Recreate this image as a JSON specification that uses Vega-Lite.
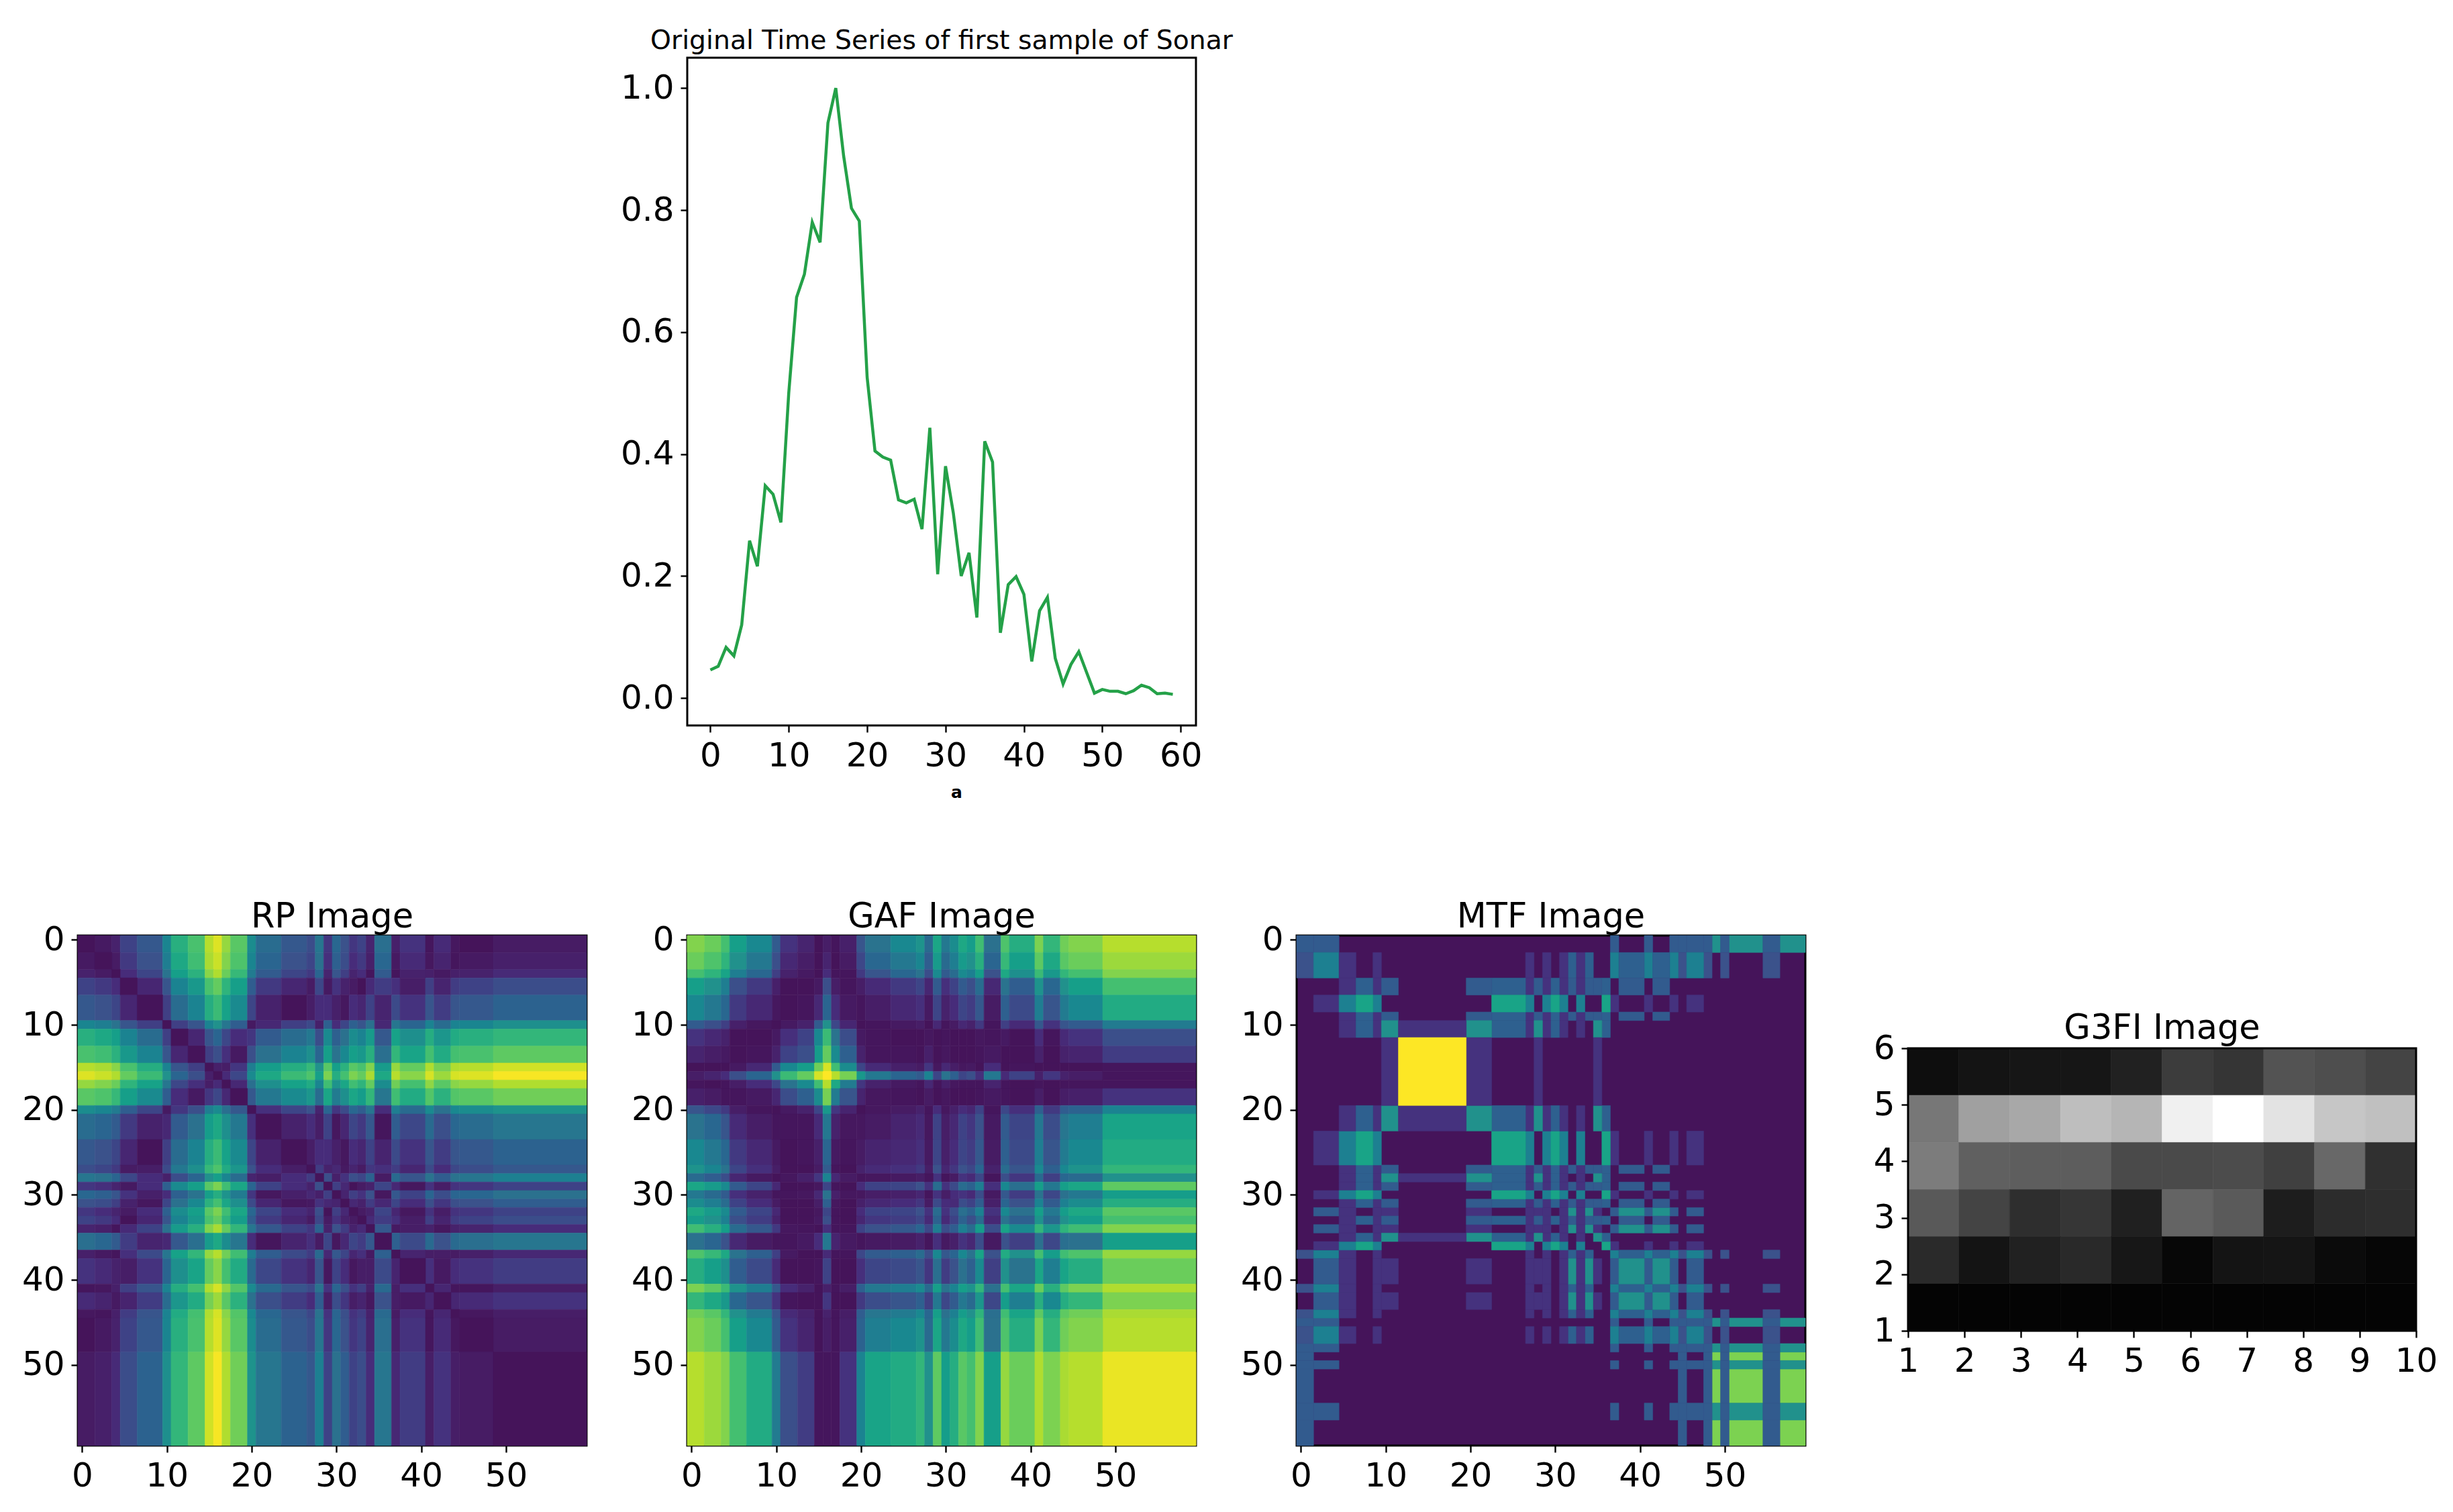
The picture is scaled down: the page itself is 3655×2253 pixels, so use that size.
{
"$schema":"https://vega.github.io/schema/vega-lite/v6.json",
"background":"white",
"padding":{"left":30,"top":40,"right":5,"bottom":5},
"config":{"font":"DejaVu Sans","view":{"stroke":"black","strokeWidth":3},"range":{"heatmap":["#45145a","#472d7b","#3b528b","#2c728e","#21918c","#28ae80","#5ec962","#addc30","#fde725"]},"axis":{"labelFont":"DejaVu Sans","labelFontSize":50,"labelColor":"black","labelFlush":false,"tickColor":"black","tickSize":10,"tickWidth":2.4,"labelPadding":10,"domain":false,"grid":false,"labelAngle":0,"labelOverlap":false},"title":{"font":"DejaVu Sans","fontWeight":"normal","fontSize":51,"color":"black","offset":-18,"anchor":"middle"}},
"datasets":{
"series":[{"t":0,"v":0.046},{"t":1,"v":0.052},{"t":2,"v":0.083},{"t":3,"v":0.069},{"t":4,"v":0.12},{"t":5,"v":0.258},{"t":6,"v":0.216},{"t":7,"v":0.348},{"t":8,"v":0.334},{"t":9,"v":0.288},{"t":10,"v":0.5},{"t":11,"v":0.657},{"t":12,"v":0.695},{"t":13,"v":0.78},{"t":14,"v":0.747},{"t":15,"v":0.943},{"t":16,"v":1},{"t":17,"v":0.889},{"t":18,"v":0.803},{"t":19,"v":0.782},{"t":20,"v":0.526},{"t":21,"v":0.405},{"t":22,"v":0.395},{"t":23,"v":0.39},{"t":24,"v":0.325},{"t":25,"v":0.32},{"t":26,"v":0.326},{"t":27,"v":0.277},{"t":28,"v":0.443},{"t":29,"v":0.203},{"t":30,"v":0.38},{"t":31,"v":0.303},{"t":32,"v":0.2},{"t":33,"v":0.238},{"t":34,"v":0.132},{"t":35,"v":0.421},{"t":36,"v":0.387},{"t":37,"v":0.107},{"t":38,"v":0.186},{"t":39,"v":0.199},{"t":40,"v":0.17},{"t":41,"v":0.06},{"t":42,"v":0.143},{"t":43,"v":0.165},{"t":44,"v":0.065},{"t":45,"v":0.023},{"t":46,"v":0.055},{"t":47,"v":0.076},{"t":48,"v":0.042},{"t":49,"v":0.008},{"t":50,"v":0.014},{"t":51,"v":0.011},{"t":52,"v":0.011},{"t":53,"v":0.007},{"t":54,"v":0.012},{"t":55,"v":0.021},{"t":56,"v":0.017},{"t":57,"v":0.007},{"t":58,"v":0.008},{"t":59,"v":0.006}],
"blocks":[{"k":0,"a":-0.5,"b":1.5},{"k":1,"a":1.5,"b":3.5},{"k":2,"a":3.5,"b":4.5},{"k":3,"a":4.5,"b":6.5},{"k":4,"a":6.5,"b":9.5},{"k":5,"a":9.5,"b":10.5},{"k":6,"a":10.5,"b":12.5},{"k":7,"a":12.5,"b":14.5},{"k":8,"a":14.5,"b":15.5},{"k":9,"a":15.5,"b":16.5},{"k":10,"a":16.5,"b":17.5},{"k":11,"a":17.5,"b":19.5},{"k":12,"a":19.5,"b":20.5},{"k":13,"a":20.5,"b":23.5},{"k":14,"a":23.5,"b":26.5},{"k":15,"a":26.5,"b":27.5},{"k":16,"a":27.5,"b":28.5},{"k":17,"a":28.5,"b":29.5},{"k":18,"a":29.5,"b":30.5},{"k":19,"a":30.5,"b":31.5},{"k":20,"a":31.5,"b":32.5},{"k":21,"a":32.5,"b":33.5},{"k":22,"a":33.5,"b":34.5},{"k":23,"a":34.5,"b":36.5},{"k":24,"a":36.5,"b":37.5},{"k":25,"a":37.5,"b":40.5},{"k":26,"a":40.5,"b":41.5},{"k":27,"a":41.5,"b":43.5},{"k":28,"a":43.5,"b":44.5},{"k":29,"a":44.5,"b":48.5},{"k":30,"a":48.5,"b":59.5}],
"runs":[{"k":0,"a":-0.5,"b":1.5},{"k":1,"a":1.5,"b":4.5},{"k":2,"a":4.5,"b":6.5},{"k":3,"a":6.5,"b":8.5},{"k":4,"a":8.5,"b":9.5},{"k":5,"a":9.5,"b":11.5},{"k":6,"a":11.5,"b":19.5},{"k":7,"a":19.5,"b":22.5},{"k":8,"a":22.5,"b":26.5},{"k":9,"a":26.5,"b":27.5},{"k":10,"a":27.5,"b":28.5},{"k":11,"a":28.5,"b":29.5},{"k":12,"a":29.5,"b":30.5},{"k":13,"a":30.5,"b":31.5},{"k":14,"a":31.5,"b":32.5},{"k":15,"a":32.5,"b":33.5},{"k":16,"a":33.5,"b":34.5},{"k":17,"a":34.5,"b":35.5},{"k":18,"a":35.5,"b":36.5},{"k":19,"a":36.5,"b":37.5},{"k":20,"a":37.5,"b":40.5},{"k":21,"a":40.5,"b":41.5},{"k":22,"a":41.5,"b":43.5},{"k":23,"a":43.5,"b":44.5},{"k":24,"a":44.5,"b":45.5},{"k":25,"a":45.5,"b":47.5},{"k":26,"a":47.5,"b":48.5},{"k":27,"a":48.5,"b":49.5},{"k":28,"a":49.5,"b":50.5},{"k":29,"a":50.5,"b":54.5},{"k":30,"a":54.5,"b":56.5},{"k":31,"a":56.5,"b":59.5}],
"grid":[
{"i":0,"j":0,"r":0,"g":81},{"i":0,"j":1,"r":3,"g":77},{"i":0,"j":2,"r":7,"g":70},{"i":0,"j":3,"r":19,"g":56},{"i":0,"j":4,"r":27,"g":46},{"i":0,"j":5,"r":45,"g":28},{"i":0,"j":6,"r":63,"g":14},{"i":0,"j":7,"r":71,"g":8},{"i":0,"j":8,"r":89,"g":0},{"i":0,"j":9,"r":95,"g":5},{"i":0,"j":10,"r":84,"g":1},{"i":0,"j":11,"r":74,"g":6},{"i":0,"j":12,"r":48,"g":26},{"i":0,"j":13,"r":35,"g":38},{"i":0,"j":14,"r":27,"g":46},{"i":0,"j":15,"r":23,"g":51},{"i":0,"j":16,"r":39,"g":34},{"i":0,"j":17,"r":15,"g":59},{"i":0,"j":18,"r":33,"g":40},{"i":0,"j":19,"r":25,"g":48},{"i":0,"j":20,"r":15,"g":60},{"i":0,"j":21,"r":19,"g":55},{"i":0,"j":22,"r":8,"g":69},{"i":0,"j":23,"r":36,"g":37},{"i":0,"j":24,"r":6,"g":72},{"i":0,"j":25,"r":14,"g":62},{"i":0,"j":26,"r":1,"g":80},{"i":0,"j":27,"r":11,"g":66},{"i":0,"j":28,"r":2,"g":78},{"i":0,"j":29,"r":0,"g":81},{"i":0,"j":30,"r":4,"g":89},
{"i":1,"j":1,"r":0,"g":72},{"i":1,"j":2,"r":4,"g":65},{"i":1,"j":3,"r":16,"g":50},{"i":1,"j":4,"r":25,"g":40},{"i":1,"j":5,"r":42,"g":24},{"i":1,"j":6,"r":60,"g":10},{"i":1,"j":7,"r":69,"g":5},{"i":1,"j":8,"r":87,"g":0},{"i":1,"j":9,"r":92,"g":8},{"i":1,"j":10,"r":81,"g":0},{"i":1,"j":11,"r":72,"g":4},{"i":1,"j":12,"r":45,"g":21},{"i":1,"j":13,"r":32,"g":33},{"i":1,"j":14,"r":25,"g":40},{"i":1,"j":15,"r":20,"g":45},{"i":1,"j":16,"r":37,"g":29},{"i":1,"j":17,"r":13,"g":54},{"i":1,"j":18,"r":30,"g":34},{"i":1,"j":19,"r":23,"g":42},{"i":1,"j":20,"r":12,"g":54},{"i":1,"j":21,"r":16,"g":50},{"i":1,"j":22,"r":6,"g":63},{"i":1,"j":23,"r":33,"g":32},{"i":1,"j":24,"r":3,"g":67},{"i":1,"j":25,"r":11,"g":56},{"i":1,"j":26,"r":2,"g":75},{"i":1,"j":27,"r":8,"g":60},{"i":1,"j":28,"r":1,"g":74},{"i":1,"j":29,"r":3,"g":77},{"i":1,"j":30,"r":6,"g":85},
{"i":2,"j":2,"r":0,"g":58},{"i":2,"j":3,"r":12,"g":42},{"i":2,"j":4,"r":20,"g":33},{"i":2,"j":5,"r":38,"g":18},{"i":2,"j":6,"r":56,"g":7},{"i":2,"j":7,"r":64,"g":3},{"i":2,"j":8,"r":82,"g":0},{"i":2,"j":9,"r":88,"g":12},{"i":2,"j":10,"r":77,"g":1},{"i":2,"j":11,"r":67,"g":1},{"i":2,"j":12,"r":41,"g":16},{"i":2,"j":13,"r":28,"g":26},{"i":2,"j":14,"r":20,"g":33},{"i":2,"j":15,"r":16,"g":38},{"i":2,"j":16,"r":32,"g":23},{"i":2,"j":17,"r":8,"g":47},{"i":2,"j":18,"r":26,"g":28},{"i":2,"j":19,"r":18,"g":35},{"i":2,"j":20,"r":8,"g":47},{"i":2,"j":21,"r":12,"g":43},{"i":2,"j":22,"r":1,"g":56},{"i":2,"j":23,"r":28,"g":25},{"i":2,"j":24,"r":1,"g":60},{"i":2,"j":25,"r":7,"g":49},{"i":2,"j":26,"r":6,"g":68},{"i":2,"j":27,"r":3,"g":53},{"i":2,"j":28,"r":6,"g":66},{"i":2,"j":29,"r":7,"g":70},{"i":2,"j":30,"r":11,"g":81},
{"i":3,"j":3,"r":0,"g":24},{"i":3,"j":4,"r":9,"g":16},{"i":3,"j":5,"r":26,"g":6},{"i":3,"j":6,"r":44,"g":0},{"i":3,"j":7,"r":53,"g":0},{"i":3,"j":8,"r":71,"g":3},{"i":3,"j":9,"r":76,"g":24},{"i":3,"j":10,"r":65,"g":5},{"i":3,"j":11,"r":56,"g":1},{"i":3,"j":12,"r":29,"g":5},{"i":3,"j":13,"r":16,"g":11},{"i":3,"j":14,"r":9,"g":16},{"i":3,"j":15,"r":4,"g":20},{"i":3,"j":16,"r":21,"g":9},{"i":3,"j":17,"r":3,"g":28},{"i":3,"j":18,"r":14,"g":13},{"i":3,"j":19,"r":7,"g":19},{"i":3,"j":20,"r":4,"g":28},{"i":3,"j":21,"r":0,"g":24},{"i":3,"j":22,"r":11,"g":35},{"i":3,"j":23,"r":17,"g":10},{"i":3,"j":24,"r":13,"g":38},{"i":3,"j":25,"r":5,"g":29},{"i":3,"j":26,"r":18,"g":51},{"i":3,"j":27,"r":8,"g":33},{"i":3,"j":28,"r":17,"g":50},{"i":3,"j":29,"r":19,"g":56},{"i":3,"j":30,"r":23,"g":70},
{"i":4,"j":4,"r":0,"g":10},{"i":4,"j":5,"r":18,"g":2},{"i":4,"j":6,"r":35,"g":0},{"i":4,"j":7,"r":44,"g":1},{"i":4,"j":8,"r":62,"g":10},{"i":4,"j":9,"r":68,"g":32},{"i":4,"j":10,"r":57,"g":12},{"i":4,"j":11,"r":47,"g":3},{"i":4,"j":12,"r":20,"g":1},{"i":4,"j":13,"r":7,"g":5},{"i":4,"j":14,"r":0,"g":10},{"i":4,"j":15,"r":5,"g":13},{"i":4,"j":16,"r":12,"g":3},{"i":4,"j":17,"r":12,"g":20},{"i":4,"j":18,"r":6,"g":7},{"i":4,"j":19,"r":2,"g":12},{"i":4,"j":20,"r":12,"g":20},{"i":4,"j":21,"r":9,"g":17},{"i":4,"j":22,"r":19,"g":27},{"i":4,"j":23,"r":8,"g":4},{"i":4,"j":24,"r":22,"g":30},{"i":4,"j":25,"r":14,"g":22},{"i":4,"j":26,"r":26,"g":42},{"i":4,"j":27,"r":17,"g":26},{"i":4,"j":28,"r":26,"g":41},{"i":4,"j":29,"r":27,"g":46},{"i":4,"j":30,"r":31,"g":61},
{"i":5,"j":5,"r":0,"g":0},{"i":5,"j":6,"r":18,"g":3},{"i":5,"j":7,"r":26,"g":7},{"i":5,"j":8,"r":44,"g":28},{"i":5,"j":9,"r":50,"g":50},{"i":5,"j":10,"r":39,"g":21},{"i":5,"j":11,"r":29,"g":9},{"i":5,"j":12,"r":3,"g":0},{"i":5,"j":13,"r":10,"g":1},{"i":5,"j":14,"r":18,"g":3},{"i":5,"j":15,"r":22,"g":5},{"i":5,"j":16,"r":6,"g":0},{"i":5,"j":17,"r":30,"g":10},{"i":5,"j":18,"r":12,"g":1},{"i":5,"j":19,"r":20,"g":4},{"i":5,"j":20,"r":30,"g":10},{"i":5,"j":21,"r":26,"g":7},{"i":5,"j":22,"r":37,"g":16},{"i":5,"j":23,"r":10,"g":1},{"i":5,"j":24,"r":39,"g":18},{"i":5,"j":25,"r":32,"g":11},{"i":5,"j":26,"r":44,"g":27},{"i":5,"j":27,"r":35,"g":14},{"i":5,"j":28,"r":44,"g":26},{"i":5,"j":29,"r":45,"g":28},{"i":5,"j":30,"r":49,"g":41},
{"i":6,"j":6,"r":0,"g":13},{"i":6,"j":7,"r":9,"g":19},{"i":6,"j":8,"r":26,"g":46},{"i":6,"j":9,"r":32,"g":68},{"i":6,"j":10,"r":21,"g":38},{"i":6,"j":11,"r":12,"g":23},{"i":6,"j":12,"r":15,"g":3},{"i":6,"j":13,"r":28,"g":1},{"i":6,"j":14,"r":35,"g":0},{"i":6,"j":15,"r":40,"g":0},{"i":6,"j":16,"r":23,"g":2},{"i":6,"j":17,"r":47,"g":0},{"i":6,"j":18,"r":30,"g":1},{"i":6,"j":19,"r":37,"g":0},{"i":6,"j":20,"r":48,"g":0},{"i":6,"j":21,"r":44,"g":0},{"i":6,"j":22,"r":54,"g":2},{"i":6,"j":23,"r":27,"g":1},{"i":6,"j":24,"r":57,"g":3},{"i":6,"j":25,"r":49,"g":0},{"i":6,"j":26,"r":62,"g":12},{"i":6,"j":27,"r":52,"g":1},{"i":6,"j":28,"r":61,"g":11},{"i":6,"j":29,"r":63,"g":14},{"i":6,"j":30,"r":66,"g":24},
{"i":7,"j":7,"r":0,"g":24},{"i":7,"j":8,"r":18,"g":55},{"i":7,"j":9,"r":24,"g":76},{"i":7,"j":10,"r":13,"g":47},{"i":7,"j":11,"r":3,"g":30},{"i":7,"j":12,"r":24,"g":7},{"i":7,"j":13,"r":37,"g":1},{"i":7,"j":14,"r":44,"g":1},{"i":7,"j":15,"r":49,"g":0},{"i":7,"j":16,"r":32,"g":6},{"i":7,"j":17,"r":56,"g":0},{"i":7,"j":18,"r":38,"g":2},{"i":7,"j":19,"r":46,"g":0},{"i":7,"j":20,"r":56,"g":0},{"i":7,"j":21,"r":53,"g":0},{"i":7,"j":22,"r":63,"g":1},{"i":7,"j":23,"r":36,"g":3},{"i":7,"j":24,"r":66,"g":0},{"i":7,"j":25,"r":58,"g":0},{"i":7,"j":26,"r":70,"g":7},{"i":7,"j":27,"r":61,"g":0},{"i":7,"j":28,"r":70,"g":7},{"i":7,"j":29,"r":71,"g":8},{"i":7,"j":30,"r":75,"g":17},
{"i":8,"j":8,"r":0,"g":78},{"i":8,"j":9,"r":6,"g":94},{"i":8,"j":10,"r":5,"g":69},{"i":8,"j":11,"r":15,"g":48},{"i":8,"j":12,"r":42,"g":20},{"i":8,"j":13,"r":55,"g":11},{"i":8,"j":14,"r":62,"g":6},{"i":8,"j":15,"r":67,"g":4},{"i":8,"j":16,"r":50,"g":15},{"i":8,"j":17,"r":74,"g":2},{"i":8,"j":18,"r":56,"g":10},{"i":8,"j":19,"r":64,"g":5},{"i":8,"j":20,"r":74,"g":2},{"i":8,"j":21,"r":71,"g":3},{"i":8,"j":22,"r":81,"g":0},{"i":8,"j":23,"r":54,"g":12},{"i":8,"j":24,"r":84,"g":0},{"i":8,"j":25,"r":76,"g":1},{"i":8,"j":26,"r":88,"g":0},{"i":8,"j":27,"r":79,"g":0},{"i":8,"j":28,"r":88,"g":0},{"i":8,"j":29,"r":89,"g":0},{"i":8,"j":30,"r":93,"g":1},
{"i":9,"j":9,"r":0,"g":100},{"i":9,"j":10,"r":11,"g":89},{"i":9,"j":11,"r":21,"g":79},{"i":9,"j":12,"r":47,"g":53},{"i":9,"j":13,"r":60,"g":40},{"i":9,"j":14,"r":68,"g":32},{"i":9,"j":15,"r":72,"g":28},{"i":9,"j":16,"r":56,"g":44},{"i":9,"j":17,"r":80,"g":20},{"i":9,"j":18,"r":62,"g":38},{"i":9,"j":19,"r":70,"g":30},{"i":9,"j":20,"r":80,"g":20},{"i":9,"j":21,"r":76,"g":24},{"i":9,"j":22,"r":87,"g":13},{"i":9,"j":23,"r":60,"g":40},{"i":9,"j":24,"r":89,"g":11},{"i":9,"j":25,"r":82,"g":19},{"i":9,"j":26,"r":94,"g":6},{"i":9,"j":27,"r":85,"g":15},{"i":9,"j":28,"r":94,"g":7},{"i":9,"j":29,"r":95,"g":5},{"i":9,"j":30,"r":99,"g":1},
{"i":10,"j":10,"r":0,"g":60},{"i":10,"j":11,"r":10,"g":41},{"i":10,"j":12,"r":36,"g":15},{"i":10,"j":13,"r":49,"g":7},{"i":10,"j":14,"r":57,"g":3},{"i":10,"j":15,"r":61,"g":1},{"i":10,"j":16,"r":45,"g":10},{"i":10,"j":17,"r":69,"g":1},{"i":10,"j":18,"r":51,"g":6},{"i":10,"j":19,"r":59,"g":2},{"i":10,"j":20,"r":69,"g":1},{"i":10,"j":21,"r":65,"g":1},{"i":10,"j":22,"r":76,"g":1},{"i":10,"j":23,"r":48,"g":8},{"i":10,"j":24,"r":78,"g":1},{"i":10,"j":25,"r":70,"g":0},{"i":10,"j":26,"r":83,"g":1},{"i":10,"j":27,"r":74,"g":0},{"i":10,"j":28,"r":82,"g":1},{"i":10,"j":29,"r":84,"g":1},{"i":10,"j":30,"r":88,"g":1},
{"i":11,"j":11,"r":0,"g":26},{"i":11,"j":12,"r":27,"g":8},{"i":11,"j":13,"r":40,"g":2},{"i":11,"j":14,"r":47,"g":1},{"i":11,"j":15,"r":52,"g":0},{"i":11,"j":16,"r":35,"g":4},{"i":11,"j":17,"r":59,"g":0},{"i":11,"j":18,"r":41,"g":2},{"i":11,"j":19,"r":49,"g":0},{"i":11,"j":20,"r":59,"g":0},{"i":11,"j":21,"r":55,"g":0},{"i":11,"j":22,"r":66,"g":1},{"i":11,"j":23,"r":39,"g":3},{"i":11,"j":24,"r":69,"g":1},{"i":11,"j":25,"r":61,"g":0},{"i":11,"j":26,"r":73,"g":5},{"i":11,"j":27,"r":64,"g":0},{"i":11,"j":28,"r":73,"g":5},{"i":11,"j":29,"r":74,"g":6},{"i":11,"j":30,"r":78,"g":14},
{"i":12,"j":12,"r":0,"g":0},{"i":12,"j":13,"r":13,"g":2},{"i":12,"j":14,"r":20,"g":4},{"i":12,"j":15,"r":25,"g":7},{"i":12,"j":16,"r":8,"g":1},{"i":12,"j":17,"r":32,"g":12},{"i":12,"j":18,"r":15,"g":2},{"i":12,"j":19,"r":22,"g":6},{"i":12,"j":20,"r":33,"g":12},{"i":12,"j":21,"r":29,"g":9},{"i":12,"j":22,"r":39,"g":19},{"i":12,"j":23,"r":12,"g":1},{"i":12,"j":24,"r":42,"g":21},{"i":12,"j":25,"r":34,"g":13},{"i":12,"j":26,"r":47,"g":30},{"i":12,"j":27,"r":37,"g":16},{"i":12,"j":28,"r":46,"g":29},{"i":12,"j":29,"r":48,"g":31},{"i":12,"j":30,"r":51,"g":44},
{"i":13,"j":13,"r":0,"g":4},{"i":13,"j":14,"r":7,"g":8},{"i":13,"j":15,"r":12,"g":11},{"i":13,"j":16,"r":5,"g":2},{"i":13,"j":17,"r":19,"g":19},{"i":13,"j":18,"r":2,"g":5},{"i":13,"j":19,"r":9,"g":10},{"i":13,"j":20,"r":20,"g":19},{"i":13,"j":21,"r":16,"g":15},{"i":13,"j":22,"r":27,"g":25},{"i":13,"j":23,"r":1,"g":3},{"i":13,"j":24,"r":29,"g":28},{"i":13,"j":25,"r":21,"g":20},{"i":13,"j":26,"r":34,"g":40},{"i":13,"j":27,"r":24,"g":23},{"i":13,"j":28,"r":33,"g":39},{"i":13,"j":29,"r":35,"g":42},{"i":13,"j":30,"r":39,"g":58},
{"i":14,"j":14,"r":0,"g":10},{"i":14,"j":15,"r":5,"g":13},{"i":14,"j":16,"r":12,"g":3},{"i":14,"j":17,"r":12,"g":20},{"i":14,"j":18,"r":6,"g":6},{"i":14,"j":19,"r":2,"g":12},{"i":14,"j":20,"r":12,"g":20},{"i":14,"j":21,"r":9,"g":17},{"i":14,"j":22,"r":19,"g":27},{"i":14,"j":23,"r":8,"g":4},{"i":14,"j":24,"r":22,"g":30},{"i":14,"j":25,"r":14,"g":22},{"i":14,"j":26,"r":26,"g":42},{"i":14,"j":27,"r":17,"g":26},{"i":14,"j":28,"r":26,"g":41},{"i":14,"j":29,"r":27,"g":46},{"i":14,"j":30,"r":31,"g":61},
{"i":15,"j":15,"r":0,"g":16},{"i":15,"j":16,"r":17,"g":5},{"i":15,"j":17,"r":7,"g":25},{"i":15,"j":18,"r":10,"g":9},{"i":15,"j":19,"r":3,"g":15},{"i":15,"j":20,"r":8,"g":25},{"i":15,"j":21,"r":4,"g":21},{"i":15,"j":22,"r":15,"g":32},{"i":15,"j":23,"r":13,"g":7},{"i":15,"j":24,"r":17,"g":35},{"i":15,"j":25,"r":9,"g":26},{"i":15,"j":26,"r":22,"g":47},{"i":15,"j":27,"r":12,"g":30},{"i":15,"j":28,"r":21,"g":46},{"i":15,"j":29,"r":23,"g":51},{"i":15,"j":30,"r":27,"g":66},
{"i":16,"j":16,"r":0,"g":1},{"i":16,"j":17,"r":24,"g":14},{"i":16,"j":18,"r":6,"g":1},{"i":16,"j":19,"r":14,"g":4},{"i":16,"j":20,"r":24,"g":14},{"i":16,"j":21,"r":21,"g":11},{"i":16,"j":22,"r":31,"g":21},{"i":16,"j":23,"r":4,"g":1},{"i":16,"j":24,"r":34,"g":24},{"i":16,"j":25,"r":26,"g":15},{"i":16,"j":26,"r":38,"g":34},{"i":16,"j":27,"r":29,"g":18},{"i":16,"j":28,"r":38,"g":33},{"i":16,"j":29,"r":39,"g":34},{"i":16,"j":30,"r":43,"g":50},
{"i":17,"j":17,"r":0,"g":35},{"i":17,"j":18,"r":18,"g":14},{"i":17,"j":19,"r":10,"g":22},{"i":17,"j":20,"r":0,"g":35},{"i":17,"j":21,"r":4,"g":31},{"i":17,"j":22,"r":7,"g":42},{"i":17,"j":23,"r":20,"g":13},{"i":17,"j":24,"r":10,"g":46},{"i":17,"j":25,"r":2,"g":36},{"i":17,"j":26,"r":14,"g":56},{"i":17,"j":27,"r":5,"g":40},{"i":17,"j":28,"r":14,"g":56},{"i":17,"j":29,"r":15,"g":59},{"i":17,"j":30,"r":19,"g":75},
{"i":18,"j":18,"r":0,"g":5},{"i":18,"j":19,"r":8,"g":12},{"i":18,"j":20,"r":18,"g":14},{"i":18,"j":21,"r":14,"g":11},{"i":18,"j":22,"r":25,"g":23},{"i":18,"j":23,"r":2,"g":3},{"i":18,"j":24,"r":27,"g":27},{"i":18,"j":25,"r":19,"g":17},{"i":18,"j":26,"r":32,"g":38},{"i":18,"j":27,"r":23,"g":21},{"i":18,"j":28,"r":32,"g":37},{"i":18,"j":29,"r":33,"g":40},{"i":18,"j":30,"r":37,"g":55},
{"i":19,"j":19,"r":0,"g":11},{"i":19,"j":20,"r":10,"g":23},{"i":19,"j":21,"r":7,"g":19},{"i":19,"j":22,"r":17,"g":29},{"i":19,"j":23,"r":10,"g":6},{"i":19,"j":24,"r":20,"g":32},{"i":19,"j":25,"r":12,"g":25},{"i":19,"j":26,"r":24,"g":44},{"i":19,"j":27,"r":15,"g":28},{"i":19,"j":28,"r":24,"g":43},{"i":19,"j":29,"r":25,"g":48},{"i":19,"j":30,"r":29,"g":62},
{"i":20,"j":20,"r":0,"g":36},{"i":20,"j":21,"r":4,"g":31},{"i":20,"j":22,"r":7,"g":43},{"i":20,"j":23,"r":20,"g":14},{"i":20,"j":24,"r":9,"g":46},{"i":20,"j":25,"r":2,"g":37},{"i":20,"j":26,"r":14,"g":56},{"i":20,"j":27,"r":5,"g":40},{"i":20,"j":28,"r":14,"g":55},{"i":20,"j":29,"r":15,"g":60},{"i":20,"j":30,"r":19,"g":74},
{"i":21,"j":21,"r":0,"g":24},{"i":21,"j":22,"r":11,"g":35},{"i":21,"j":23,"r":17,"g":10},{"i":21,"j":24,"r":13,"g":38},{"i":21,"j":25,"r":5,"g":30},{"i":21,"j":26,"r":18,"g":51},{"i":21,"j":27,"r":8,"g":34},{"i":21,"j":28,"r":17,"g":50},{"i":21,"j":29,"r":19,"g":55},{"i":21,"j":30,"r":23,"g":70},
{"i":22,"j":22,"r":0,"g":55},{"i":22,"j":23,"r":27,"g":23},{"i":22,"j":24,"r":3,"g":58},{"i":22,"j":25,"r":5,"g":47},{"i":22,"j":26,"r":7,"g":66},{"i":22,"j":27,"r":2,"g":52},{"i":22,"j":28,"r":7,"g":65},{"i":22,"j":29,"r":8,"g":69},{"i":22,"j":30,"r":12,"g":81},
{"i":23,"j":23,"r":0,"g":3},{"i":23,"j":24,"r":30,"g":25},{"i":23,"j":25,"r":22,"g":18},{"i":23,"j":26,"r":34,"g":37},{"i":23,"j":27,"r":25,"g":21},{"i":23,"j":28,"r":34,"g":36},{"i":23,"j":29,"r":36,"g":37},{"i":23,"j":30,"r":39,"g":56},
{"i":24,"j":24,"r":0,"g":61},{"i":24,"j":25,"r":8,"g":50},{"i":24,"j":26,"r":5,"g":70},{"i":24,"j":27,"r":5,"g":55},{"i":24,"j":28,"r":4,"g":69},{"i":24,"j":29,"r":6,"g":72},{"i":24,"j":30,"r":10,"g":84},
{"i":25,"j":25,"r":0,"g":38},{"i":25,"j":26,"r":13,"g":59},{"i":25,"j":27,"r":3,"g":42},{"i":25,"j":28,"r":12,"g":58},{"i":25,"j":29,"r":14,"g":62},{"i":25,"j":30,"r":17,"g":77},
{"i":26,"j":26,"r":0,"g":77},{"i":26,"j":27,"r":9,"g":63},{"i":26,"j":28,"r":1,"g":75},{"i":26,"j":29,"r":1,"g":80},{"i":26,"j":30,"r":5,"g":88},
{"i":27,"j":27,"r":0,"g":46},{"i":27,"j":28,"r":9,"g":62},{"i":27,"j":29,"r":11,"g":66},{"i":27,"j":30,"r":14,"g":80},
{"i":28,"j":28,"r":0,"g":75},{"i":28,"j":29,"r":2,"g":78},{"i":28,"j":30,"r":5,"g":87},
{"i":29,"j":29,"r":0,"g":81},{"i":29,"j":30,"r":4,"g":89},
{"i":30,"j":30,"r":0,"g":97}
],
"mtf":[
{"i":27,"j":27,"m":80},{"i":27,"j":29,"m":80},{"i":27,"j":31,"m":80},{"i":29,"j":27,"m":80},{"i":29,"j":29,"m":80},{"i":29,"j":31,"m":80},{"i":31,"j":27,"m":80},{"i":31,"j":29,"m":80},{"i":31,"j":31,"m":80},
{"i":27,"j":0,"m":28},{"i":27,"j":24,"m":28},{"i":27,"j":26,"m":28},{"i":27,"j":28,"m":28},{"i":27,"j":30,"m":28},{"i":29,"j":0,"m":28},{"i":29,"j":24,"m":28},{"i":29,"j":26,"m":28},{"i":29,"j":28,"m":28},{"i":29,"j":30,"m":28},{"i":31,"j":0,"m":28},{"i":31,"j":24,"m":28},{"i":31,"j":26,"m":28},{"i":31,"j":28,"m":28},{"i":31,"j":30,"m":28},
{"i":0,"j":27,"m":50},{"i":0,"j":29,"m":50},{"i":0,"j":31,"m":50},{"i":24,"j":27,"m":50},{"i":24,"j":29,"m":50},{"i":24,"j":31,"m":50},{"i":26,"j":27,"m":50},{"i":26,"j":29,"m":50},{"i":26,"j":31,"m":50},{"i":28,"j":27,"m":50},{"i":28,"j":29,"m":50},{"i":28,"j":31,"m":50},{"i":30,"j":27,"m":50},{"i":30,"j":29,"m":50},{"i":30,"j":31,"m":50},
{"i":0,"j":0,"m":28},{"i":0,"j":24,"m":28},{"i":0,"j":26,"m":28},{"i":0,"j":28,"m":28},{"i":0,"j":30,"m":28},{"i":24,"j":0,"m":28},{"i":24,"j":24,"m":28},{"i":24,"j":26,"m":28},{"i":24,"j":28,"m":28},{"i":24,"j":30,"m":28},{"i":26,"j":0,"m":28},{"i":26,"j":24,"m":28},{"i":26,"j":26,"m":28},{"i":26,"j":28,"m":28},{"i":26,"j":30,"m":28},{"i":28,"j":0,"m":28},{"i":28,"j":24,"m":28},{"i":28,"j":26,"m":28},{"i":28,"j":28,"m":28},{"i":28,"j":30,"m":28},{"i":30,"j":0,"m":28},{"i":30,"j":24,"m":28},{"i":30,"j":26,"m":28},{"i":30,"j":28,"m":28},{"i":30,"j":30,"m":28},
{"i":0,"j":1,"m":28},{"i":0,"j":19,"m":28},{"i":0,"j":21,"m":28},{"i":0,"j":23,"m":28},{"i":0,"j":25,"m":28},{"i":24,"j":1,"m":28},{"i":24,"j":19,"m":28},{"i":24,"j":21,"m":28},{"i":24,"j":23,"m":28},{"i":24,"j":25,"m":28},{"i":26,"j":1,"m":28},{"i":26,"j":19,"m":28},{"i":26,"j":21,"m":28},{"i":26,"j":23,"m":28},{"i":26,"j":25,"m":28},{"i":28,"j":1,"m":28},{"i":28,"j":19,"m":28},{"i":28,"j":21,"m":28},{"i":28,"j":23,"m":28},{"i":28,"j":25,"m":28},{"i":30,"j":1,"m":28},{"i":30,"j":19,"m":28},{"i":30,"j":21,"m":28},{"i":30,"j":23,"m":28},{"i":30,"j":25,"m":28},
{"i":1,"j":0,"m":25},{"i":1,"j":24,"m":25},{"i":1,"j":26,"m":25},{"i":1,"j":28,"m":25},{"i":1,"j":30,"m":25},{"i":19,"j":0,"m":25},{"i":19,"j":24,"m":25},{"i":19,"j":26,"m":25},{"i":19,"j":28,"m":25},{"i":19,"j":30,"m":25},{"i":21,"j":0,"m":25},{"i":21,"j":24,"m":25},{"i":21,"j":26,"m":25},{"i":21,"j":28,"m":25},{"i":21,"j":30,"m":25},{"i":23,"j":0,"m":25},{"i":23,"j":24,"m":25},{"i":23,"j":26,"m":25},{"i":23,"j":28,"m":25},{"i":23,"j":30,"m":25},{"i":25,"j":0,"m":25},{"i":25,"j":24,"m":25},{"i":25,"j":26,"m":25},{"i":25,"j":28,"m":25},{"i":25,"j":30,"m":25},
{"i":1,"j":1,"m":43},{"i":1,"j":19,"m":43},{"i":1,"j":21,"m":43},{"i":1,"j":23,"m":43},{"i":1,"j":25,"m":43},{"i":19,"j":1,"m":43},{"i":19,"j":19,"m":43},{"i":19,"j":21,"m":43},{"i":19,"j":23,"m":43},{"i":19,"j":25,"m":43},{"i":21,"j":1,"m":43},{"i":21,"j":19,"m":43},{"i":21,"j":21,"m":43},{"i":21,"j":23,"m":43},{"i":21,"j":25,"m":43},{"i":23,"j":1,"m":43},{"i":23,"j":19,"m":43},{"i":23,"j":21,"m":43},{"i":23,"j":23,"m":43},{"i":23,"j":25,"m":43},{"i":25,"j":1,"m":43},{"i":25,"j":19,"m":43},{"i":25,"j":21,"m":43},{"i":25,"j":23,"m":43},{"i":25,"j":25,"m":43},
{"i":1,"j":14,"m":30},{"i":1,"j":16,"m":30},{"i":1,"j":20,"m":30},{"i":1,"j":22,"m":30},{"i":19,"j":14,"m":30},{"i":19,"j":16,"m":30},{"i":19,"j":20,"m":30},{"i":19,"j":22,"m":30},{"i":21,"j":14,"m":30},{"i":21,"j":16,"m":30},{"i":21,"j":20,"m":30},{"i":21,"j":22,"m":30},{"i":23,"j":14,"m":30},{"i":23,"j":16,"m":30},{"i":23,"j":20,"m":30},{"i":23,"j":22,"m":30},{"i":25,"j":14,"m":30},{"i":25,"j":16,"m":30},{"i":25,"j":20,"m":30},{"i":25,"j":22,"m":30},
{"i":1,"j":2,"m":14},{"i":1,"j":4,"m":14},{"i":1,"j":9,"m":14},{"i":1,"j":11,"m":14},{"i":1,"j":13,"m":14},{"i":1,"j":15,"m":14},{"i":19,"j":2,"m":14},{"i":19,"j":4,"m":14},{"i":19,"j":9,"m":14},{"i":19,"j":11,"m":14},{"i":19,"j":13,"m":14},{"i":19,"j":15,"m":14},{"i":21,"j":2,"m":14},{"i":21,"j":4,"m":14},{"i":21,"j":9,"m":14},{"i":21,"j":11,"m":14},{"i":21,"j":13,"m":14},{"i":21,"j":15,"m":14},{"i":23,"j":2,"m":14},{"i":23,"j":4,"m":14},{"i":23,"j":9,"m":14},{"i":23,"j":11,"m":14},{"i":23,"j":13,"m":14},{"i":23,"j":15,"m":14},{"i":25,"j":2,"m":14},{"i":25,"j":4,"m":14},{"i":25,"j":9,"m":14},{"i":25,"j":11,"m":14},{"i":25,"j":13,"m":14},{"i":25,"j":15,"m":14},
{"i":14,"j":1,"m":28},{"i":14,"j":19,"m":28},{"i":14,"j":21,"m":28},{"i":14,"j":23,"m":28},{"i":14,"j":25,"m":28},{"i":16,"j":1,"m":28},{"i":16,"j":19,"m":28},{"i":16,"j":21,"m":28},{"i":16,"j":23,"m":28},{"i":16,"j":25,"m":28},{"i":20,"j":1,"m":28},{"i":20,"j":19,"m":28},{"i":20,"j":21,"m":28},{"i":20,"j":23,"m":28},{"i":20,"j":25,"m":28},{"i":22,"j":1,"m":28},{"i":22,"j":19,"m":28},{"i":22,"j":21,"m":28},{"i":22,"j":23,"m":28},{"i":22,"j":25,"m":28},
{"i":14,"j":14,"m":50},{"i":14,"j":16,"m":50},{"i":14,"j":20,"m":50},{"i":14,"j":22,"m":50},{"i":16,"j":14,"m":50},{"i":16,"j":16,"m":50},{"i":16,"j":20,"m":50},{"i":16,"j":22,"m":50},{"i":20,"j":14,"m":50},{"i":20,"j":16,"m":50},{"i":20,"j":20,"m":50},{"i":20,"j":22,"m":50},{"i":22,"j":14,"m":50},{"i":22,"j":16,"m":50},{"i":22,"j":20,"m":50},{"i":22,"j":22,"m":50},
{"i":14,"j":2,"m":14},{"i":14,"j":4,"m":14},{"i":14,"j":9,"m":14},{"i":14,"j":11,"m":14},{"i":14,"j":13,"m":14},{"i":14,"j":15,"m":14},{"i":16,"j":2,"m":14},{"i":16,"j":4,"m":14},{"i":16,"j":9,"m":14},{"i":16,"j":11,"m":14},{"i":16,"j":13,"m":14},{"i":16,"j":15,"m":14},{"i":20,"j":2,"m":14},{"i":20,"j":4,"m":14},{"i":20,"j":9,"m":14},{"i":20,"j":11,"m":14},{"i":20,"j":13,"m":14},{"i":20,"j":15,"m":14},{"i":22,"j":2,"m":14},{"i":22,"j":4,"m":14},{"i":22,"j":9,"m":14},{"i":22,"j":11,"m":14},{"i":22,"j":13,"m":14},{"i":22,"j":15,"m":14},
{"i":14,"j":5,"m":14},{"i":14,"j":7,"m":14},{"i":14,"j":10,"m":14},{"i":14,"j":17,"m":14},{"i":16,"j":5,"m":14},{"i":16,"j":7,"m":14},{"i":16,"j":10,"m":14},{"i":16,"j":17,"m":14},{"i":20,"j":5,"m":14},{"i":20,"j":7,"m":14},{"i":20,"j":10,"m":14},{"i":20,"j":17,"m":14},{"i":22,"j":5,"m":14},{"i":22,"j":7,"m":14},{"i":22,"j":10,"m":14},{"i":22,"j":17,"m":14},
{"i":2,"j":14,"m":28},{"i":2,"j":16,"m":28},{"i":2,"j":20,"m":28},{"i":2,"j":22,"m":28},{"i":4,"j":14,"m":28},{"i":4,"j":16,"m":28},{"i":4,"j":20,"m":28},{"i":4,"j":22,"m":28},{"i":9,"j":14,"m":28},{"i":9,"j":16,"m":28},{"i":9,"j":20,"m":28},{"i":9,"j":22,"m":28},{"i":11,"j":14,"m":28},{"i":11,"j":16,"m":28},{"i":11,"j":20,"m":28},{"i":11,"j":22,"m":28},{"i":13,"j":14,"m":28},{"i":13,"j":16,"m":28},{"i":13,"j":20,"m":28},{"i":13,"j":22,"m":28},{"i":15,"j":14,"m":28},{"i":15,"j":16,"m":28},{"i":15,"j":20,"m":28},{"i":15,"j":22,"m":28},
{"i":2,"j":2,"m":14},{"i":2,"j":4,"m":14},{"i":2,"j":9,"m":14},{"i":2,"j":11,"m":14},{"i":2,"j":13,"m":14},{"i":2,"j":15,"m":14},{"i":4,"j":2,"m":14},{"i":4,"j":4,"m":14},{"i":4,"j":9,"m":14},{"i":4,"j":11,"m":14},{"i":4,"j":13,"m":14},{"i":4,"j":15,"m":14},{"i":9,"j":2,"m":14},{"i":9,"j":4,"m":14},{"i":9,"j":9,"m":14},{"i":9,"j":11,"m":14},{"i":9,"j":13,"m":14},{"i":9,"j":15,"m":14},{"i":11,"j":2,"m":14},{"i":11,"j":4,"m":14},{"i":11,"j":9,"m":14},{"i":11,"j":11,"m":14},{"i":11,"j":13,"m":14},{"i":11,"j":15,"m":14},{"i":13,"j":2,"m":14},{"i":13,"j":4,"m":14},{"i":13,"j":9,"m":14},{"i":13,"j":11,"m":14},{"i":13,"j":13,"m":14},{"i":13,"j":15,"m":14},{"i":15,"j":2,"m":14},{"i":15,"j":4,"m":14},{"i":15,"j":9,"m":14},{"i":15,"j":11,"m":14},{"i":15,"j":13,"m":14},{"i":15,"j":15,"m":14},
{"i":2,"j":3,"m":30},{"i":2,"j":8,"m":30},{"i":2,"j":12,"m":30},{"i":2,"j":18,"m":30},{"i":4,"j":3,"m":30},{"i":4,"j":8,"m":30},{"i":4,"j":12,"m":30},{"i":4,"j":18,"m":30},{"i":9,"j":3,"m":30},{"i":9,"j":8,"m":30},{"i":9,"j":12,"m":30},{"i":9,"j":18,"m":30},{"i":11,"j":3,"m":30},{"i":11,"j":8,"m":30},{"i":11,"j":12,"m":30},{"i":11,"j":18,"m":30},{"i":13,"j":3,"m":30},{"i":13,"j":8,"m":30},{"i":13,"j":12,"m":30},{"i":13,"j":18,"m":30},{"i":15,"j":3,"m":30},{"i":15,"j":8,"m":30},{"i":15,"j":12,"m":30},{"i":15,"j":18,"m":30},
{"i":2,"j":5,"m":28},{"i":2,"j":7,"m":28},{"i":2,"j":10,"m":28},{"i":2,"j":17,"m":28},{"i":4,"j":5,"m":28},{"i":4,"j":7,"m":28},{"i":4,"j":10,"m":28},{"i":4,"j":17,"m":28},{"i":9,"j":5,"m":28},{"i":9,"j":7,"m":28},{"i":9,"j":10,"m":28},{"i":9,"j":17,"m":28},{"i":11,"j":5,"m":28},{"i":11,"j":7,"m":28},{"i":11,"j":10,"m":28},{"i":11,"j":17,"m":28},{"i":13,"j":5,"m":28},{"i":13,"j":7,"m":28},{"i":13,"j":10,"m":28},{"i":13,"j":17,"m":28},{"i":15,"j":5,"m":28},{"i":15,"j":7,"m":28},{"i":15,"j":10,"m":28},{"i":15,"j":17,"m":28},
{"i":3,"j":1,"m":14},{"i":3,"j":19,"m":14},{"i":3,"j":21,"m":14},{"i":3,"j":23,"m":14},{"i":3,"j":25,"m":14},{"i":8,"j":1,"m":14},{"i":8,"j":19,"m":14},{"i":8,"j":21,"m":14},{"i":8,"j":23,"m":14},{"i":8,"j":25,"m":14},{"i":12,"j":1,"m":14},{"i":12,"j":19,"m":14},{"i":12,"j":21,"m":14},{"i":12,"j":23,"m":14},{"i":12,"j":25,"m":14},{"i":18,"j":1,"m":14},{"i":18,"j":19,"m":14},{"i":18,"j":21,"m":14},{"i":18,"j":23,"m":14},{"i":18,"j":25,"m":14},
{"i":3,"j":2,"m":43},{"i":3,"j":4,"m":43},{"i":3,"j":9,"m":43},{"i":3,"j":11,"m":43},{"i":3,"j":13,"m":43},{"i":3,"j":15,"m":43},{"i":8,"j":2,"m":43},{"i":8,"j":4,"m":43},{"i":8,"j":9,"m":43},{"i":8,"j":11,"m":43},{"i":8,"j":13,"m":43},{"i":8,"j":15,"m":43},{"i":12,"j":2,"m":43},{"i":12,"j":4,"m":43},{"i":12,"j":9,"m":43},{"i":12,"j":11,"m":43},{"i":12,"j":13,"m":43},{"i":12,"j":15,"m":43},{"i":18,"j":2,"m":43},{"i":18,"j":4,"m":43},{"i":18,"j":9,"m":43},{"i":18,"j":11,"m":43},{"i":18,"j":13,"m":43},{"i":18,"j":15,"m":43},
{"i":3,"j":3,"m":58},{"i":3,"j":8,"m":58},{"i":3,"j":12,"m":58},{"i":3,"j":18,"m":58},{"i":8,"j":3,"m":58},{"i":8,"j":8,"m":58},{"i":8,"j":12,"m":58},{"i":8,"j":18,"m":58},{"i":12,"j":3,"m":58},{"i":12,"j":8,"m":58},{"i":12,"j":12,"m":58},{"i":12,"j":18,"m":58},{"i":18,"j":3,"m":58},{"i":18,"j":8,"m":58},{"i":18,"j":12,"m":58},{"i":18,"j":18,"m":58},
{"i":5,"j":2,"m":14},{"i":5,"j":4,"m":14},{"i":5,"j":9,"m":14},{"i":5,"j":11,"m":14},{"i":5,"j":13,"m":14},{"i":5,"j":15,"m":14},{"i":7,"j":2,"m":14},{"i":7,"j":4,"m":14},{"i":7,"j":9,"m":14},{"i":7,"j":11,"m":14},{"i":7,"j":13,"m":14},{"i":7,"j":15,"m":14},{"i":10,"j":2,"m":14},{"i":10,"j":4,"m":14},{"i":10,"j":9,"m":14},{"i":10,"j":11,"m":14},{"i":10,"j":13,"m":14},{"i":10,"j":15,"m":14},{"i":17,"j":2,"m":14},{"i":17,"j":4,"m":14},{"i":17,"j":9,"m":14},{"i":17,"j":11,"m":14},{"i":17,"j":13,"m":14},{"i":17,"j":15,"m":14},
{"i":5,"j":3,"m":30},{"i":5,"j":8,"m":30},{"i":5,"j":12,"m":30},{"i":5,"j":18,"m":30},{"i":7,"j":3,"m":30},{"i":7,"j":8,"m":30},{"i":7,"j":12,"m":30},{"i":7,"j":18,"m":30},{"i":10,"j":3,"m":30},{"i":10,"j":8,"m":30},{"i":10,"j":12,"m":30},{"i":10,"j":18,"m":30},{"i":17,"j":3,"m":30},{"i":17,"j":8,"m":30},{"i":17,"j":12,"m":30},{"i":17,"j":18,"m":30},
{"i":5,"j":5,"m":50},{"i":5,"j":7,"m":50},{"i":5,"j":10,"m":50},{"i":5,"j":17,"m":50},{"i":7,"j":5,"m":50},{"i":7,"j":7,"m":50},{"i":7,"j":10,"m":50},{"i":7,"j":17,"m":50},{"i":10,"j":5,"m":50},{"i":10,"j":7,"m":50},{"i":10,"j":10,"m":50},{"i":10,"j":17,"m":50},{"i":17,"j":5,"m":50},{"i":17,"j":7,"m":50},{"i":17,"j":10,"m":50},{"i":17,"j":17,"m":50},
{"i":5,"j":6,"m":14},{"i":7,"j":6,"m":14},{"i":10,"j":6,"m":14},{"i":17,"j":6,"m":14},
{"i":6,"j":5,"m":14},{"i":6,"j":7,"m":14},{"i":6,"j":10,"m":14},{"i":6,"j":17,"m":14},{"i":6,"j":6,"m":100}
],
"g3fi":[
{"x":1,"x2":1.9,"y":5.167,"y2":6,"v":10},{"x":1.9,"x2":2.8,"y":5.167,"y2":6,"v":16},{"x":2.8,"x2":3.7,"y":5.167,"y2":6,"v":19},{"x":3.7,"x2":4.6,"y":5.167,"y2":6,"v":19},{"x":4.6,"x2":5.5,"y":5.167,"y2":6,"v":32},{"x":5.5,"x2":6.4,"y":5.167,"y2":6,"v":64},{"x":6.4,"x2":7.3,"y":5.167,"y2":6,"v":56},{"x":7.3,"x2":8.2,"y":5.167,"y2":6,"v":90},{"x":8.2,"x2":9.1,"y":5.167,"y2":6,"v":85},{"x":9.1,"x2":10,"y":5.167,"y2":6,"v":74},
{"x":1,"x2":1.9,"y":4.333,"y2":5.167,"v":128},{"x":1.9,"x2":2.8,"y":4.333,"y2":5.167,"v":168},{"x":2.8,"x2":3.7,"y":4.333,"y2":5.167,"v":176},{"x":3.7,"x2":4.6,"y":4.333,"y2":5.167,"v":196},{"x":4.6,"x2":5.5,"y":4.333,"y2":5.167,"v":188},{"x":5.5,"x2":6.4,"y":4.333,"y2":5.167,"v":242},{"x":6.4,"x2":7.3,"y":4.333,"y2":5.167,"v":255},{"x":7.3,"x2":8.2,"y":4.333,"y2":5.167,"v":230},{"x":8.2,"x2":9.1,"y":4.333,"y2":5.167,"v":204},{"x":9.1,"x2":10,"y":4.333,"y2":5.167,"v":198},
{"x":1,"x2":1.9,"y":3.5,"y2":4.333,"v":133},{"x":1.9,"x2":2.8,"y":3.5,"y2":4.333,"v":104},{"x":2.8,"x2":3.7,"y":3.5,"y2":4.333,"v":102},{"x":3.7,"x2":4.6,"y":3.5,"y2":4.333,"v":101},{"x":4.6,"x2":5.5,"y":3.5,"y2":4.333,"v":80},{"x":5.5,"x2":6.4,"y":3.5,"y2":4.333,"v":80},{"x":6.4,"x2":7.3,"y":3.5,"y2":4.333,"v":82},{"x":7.3,"x2":8.2,"y":3.5,"y2":4.333,"v":69},{"x":8.2,"x2":9.1,"y":3.5,"y2":4.333,"v":112},{"x":9.1,"x2":10,"y":3.5,"y2":4.333,"v":51},
{"x":1,"x2":1.9,"y":2.667,"y2":3.5,"v":96},{"x":1.9,"x2":2.8,"y":2.667,"y2":3.5,"v":74},{"x":2.8,"x2":3.7,"y":2.667,"y2":3.5,"v":48},{"x":3.7,"x2":4.6,"y":2.667,"y2":3.5,"v":58},{"x":4.6,"x2":5.5,"y":2.667,"y2":3.5,"v":31},{"x":5.5,"x2":6.4,"y":2.667,"y2":3.5,"v":108},{"x":6.4,"x2":7.3,"y":2.667,"y2":3.5,"v":98},{"x":7.3,"x2":8.2,"y":2.667,"y2":3.5,"v":28},{"x":8.2,"x2":9.1,"y":2.667,"y2":3.5,"v":46},{"x":9.1,"x2":10,"y":2.667,"y2":3.5,"v":48},
{"x":1,"x2":1.9,"y":1.833,"y2":2.667,"v":44},{"x":1.9,"x2":2.8,"y":1.833,"y2":2.667,"v":16},{"x":2.8,"x2":3.7,"y":1.833,"y2":2.667,"v":32},{"x":3.7,"x2":4.6,"y":1.833,"y2":2.667,"v":42},{"x":4.6,"x2":5.5,"y":1.833,"y2":2.667,"v":20},{"x":5.5,"x2":6.4,"y":1.833,"y2":2.667,"v":5},{"x":6.4,"x2":7.3,"y":1.833,"y2":2.667,"v":16},{"x":7.3,"x2":8.2,"y":1.833,"y2":2.667,"v":17},{"x":8.2,"x2":9.1,"y":1.833,"y2":2.667,"v":8},{"x":9.1,"x2":10,"y":1.833,"y2":2.667,"v":4},
{"x":1,"x2":1.9,"y":1,"y2":1.833,"v":3},{"x":1.9,"x2":2.8,"y":1,"y2":1.833,"v":3},{"x":2.8,"x2":3.7,"y":1,"y2":1.833,"v":3},{"x":3.7,"x2":4.6,"y":1,"y2":1.833,"v":3},{"x":4.6,"x2":5.5,"y":1,"y2":1.833,"v":3},{"x":5.5,"x2":6.4,"y":1,"y2":1.833,"v":3},{"x":6.4,"x2":7.3,"y":1,"y2":1.833,"v":3},{"x":7.3,"x2":8.2,"y":1,"y2":1.833,"v":3},{"x":8.2,"x2":9.1,"y":1,"y2":1.833,"v":3},{"x":9.1,"x2":10,"y":1,"y2":1.833,"v":3}
],
"g3fi_frame":[{"x":1,"x2":10,"y":1,"y2":6}]
},
"columns":4,
"bounds":"flush",
"align":"each",
"spacing":{"column":150,"row":313},
"resolve":{"scale":{"fill":"independent","stroke":"independent"}},
"concat":[
 {"width":758,"height":995,"view":{"stroke":null},"data":{"values":[]},"mark":"rect"},
 {"width":758,"height":995,"title":{"text":"Original Time Series of first sample of Sonar","fontSize":39.3,"offset":5},"data":{"name":"series"},
  "mark":{"type":"line","color":"#24a148","strokeWidth":4.5},
  "encoding":{"x":{"field":"t","type":"quantitative","scale":{"domain":[-2.95,61.95],"nice":false,"zero":false},"axis":{"values":[0,10,20,30,40,50,60],"title":"a","titleFontSize":25,"titleFontWeight":"bold","titleFont":"DejaVu Sans","titleX":401,"titleY":87}},
   "y":{"field":"v","type":"quantitative","title":null,"scale":{"domain":[-0.045,1.0498],"nice":false,"zero":false},"axis":{"values":[0,0.2,0.4,0.6,0.8,1],"format":".1f"}}}},
 {"width":761,"height":995,"view":{"stroke":null},"data":{"values":[]},"mark":"rect"},
 {"width":757,"height":995,"view":{"stroke":null},"data":{"values":[]},"mark":"rect"},
 {"width":758,"height":760,"title":"RP Image","data":{"name":"grid"},
  "transform":[{"lookup":"i","from":{"data":{"name":"blocks"},"key":"k","fields":["a","b"]},"as":["ia","ib"]},{"lookup":"j","from":{"data":{"name":"blocks"},"key":"k","fields":["a","b"]},"as":["ja","jb"]}],
  "layer":[
   {"mark":{"type":"rect","strokeWidth":0.6},"encoding":{"x":{"field":"ja","type":"quantitative","title":null,"scale":{"domain":[-0.5,59.5],"nice":false,"zero":false},"axis":{"values":[0,10,20,30,40,50]}},"x2":{"field":"jb"},"y":{"field":"ia","type":"quantitative","title":null,"scale":{"domain":[59.5,-0.5],"nice":false,"zero":false},"axis":{"values":[0,10,20,30,40,50]}},"y2":{"field":"ib"},"fill":{"field":"r","type":"quantitative","legend":null,"scale":{"domain":[0,100]}},"stroke":{"field":"r","type":"quantitative","legend":null,"scale":{"domain":[0,100]}}}},
   {"mark":{"type":"rect","strokeWidth":0.6},"encoding":{"x":{"field":"ia","type":"quantitative","title":null,"axis":{"values":[0,10,20,30,40,50]}},"x2":{"field":"ib"},"y":{"field":"ja","type":"quantitative","title":null,"axis":{"values":[0,10,20,30,40,50]}},"y2":{"field":"jb"},"fill":{"field":"r","type":"quantitative","legend":null,"scale":{"domain":[0,100]}},"stroke":{"field":"r","type":"quantitative","legend":null,"scale":{"domain":[0,100]}}}}
  ]},
 {"width":758,"height":760,"title":"GAF Image","data":{"name":"grid"},
  "transform":[{"lookup":"i","from":{"data":{"name":"blocks"},"key":"k","fields":["a","b"]},"as":["ia","ib"]},{"lookup":"j","from":{"data":{"name":"blocks"},"key":"k","fields":["a","b"]},"as":["ja","jb"]}],
  "layer":[
   {"mark":{"type":"rect","strokeWidth":0.6},"encoding":{"x":{"field":"ja","type":"quantitative","title":null,"scale":{"domain":[-0.5,59.5],"nice":false,"zero":false},"axis":{"values":[0,10,20,30,40,50]}},"x2":{"field":"jb"},"y":{"field":"ia","type":"quantitative","title":null,"scale":{"domain":[59.5,-0.5],"nice":false,"zero":false},"axis":{"values":[0,10,20,30,40,50]}},"y2":{"field":"ib"},"fill":{"field":"g","type":"quantitative","legend":null,"scale":{"domain":[0,100]}},"stroke":{"field":"g","type":"quantitative","legend":null,"scale":{"domain":[0,100]}}}},
   {"mark":{"type":"rect","strokeWidth":0.6},"encoding":{"x":{"field":"ia","type":"quantitative","title":null,"axis":{"values":[0,10,20,30,40,50]}},"x2":{"field":"ib"},"y":{"field":"ja","type":"quantitative","title":null,"axis":{"values":[0,10,20,30,40,50]}},"y2":{"field":"jb"},"fill":{"field":"g","type":"quantitative","legend":null,"scale":{"domain":[0,100]}},"stroke":{"field":"g","type":"quantitative","legend":null,"scale":{"domain":[0,100]}}}}
  ]},
 {"width":758,"height":760,"title":"MTF Image","view":{"fill":"#45145a"},"data":{"name":"mtf"},
  "transform":[{"lookup":"i","from":{"data":{"name":"runs"},"key":"k","fields":["a","b"]},"as":["ia","ib"]},{"lookup":"j","from":{"data":{"name":"runs"},"key":"k","fields":["a","b"]},"as":["ja","jb"]}],
  "mark":{"type":"rect","strokeWidth":0.6},
  "encoding":{"x":{"field":"ja","type":"quantitative","title":null,"scale":{"domain":[-0.5,59.5],"nice":false,"zero":false},"axis":{"values":[0,10,20,30,40,50]}},"x2":{"field":"jb"},"y":{"field":"ia","type":"quantitative","title":null,"scale":{"domain":[59.5,-0.5],"nice":false,"zero":false},"axis":{"values":[0,10,20,30,40,50]}},"y2":{"field":"ib"},"fill":{"field":"m","type":"quantitative","legend":null,"scale":{"domain":[0,100]}},"stroke":{"field":"m","type":"quantitative","legend":null,"scale":{"domain":[0,100]}}}},
 {"width":757,"height":760,"view":{"stroke":null},"title":{"text":"G3FI Image","offset":-165},
  "layer":[
   {"data":{"name":"g3fi"},"mark":{"type":"rect","strokeWidth":0.6},
    "encoding":{"x":{"field":"x","type":"quantitative","title":null,"scale":{"domain":[1,10],"nice":false,"zero":false},"axis":{"values":[1,2,3,4,5,6,7,8,9,10],"offset":-171}},"x2":{"field":"x2"},"y":{"field":"y","type":"quantitative","title":null,"scale":{"domain":[1,6],"nice":false,"zero":false,"range":[589,168]},"axis":{"values":[1,2,3,4,5,6]}},"y2":{"field":"y2"},"fill":{"field":"v","type":"quantitative","legend":null,"scale":{"domain":[0,255],"range":["#000000","#ffffff"]}},"stroke":{"field":"v","type":"quantitative","legend":null,"scale":{"domain":[0,255],"range":["#000000","#ffffff"]}}}},
   {"data":{"name":"g3fi_frame"},"mark":{"type":"rect","fill":null,"stroke":"black","strokeWidth":3},
    "encoding":{"x":{"field":"x","type":"quantitative","title":null,"axis":{"values":[1,2,3,4,5,6,7,8,9,10],"offset":-171}},"x2":{"field":"x2"},"y":{"field":"y","type":"quantitative","title":null,"axis":{"values":[1,2,3,4,5,6]}},"y2":{"field":"y2"}}}
  ]}
]
}
